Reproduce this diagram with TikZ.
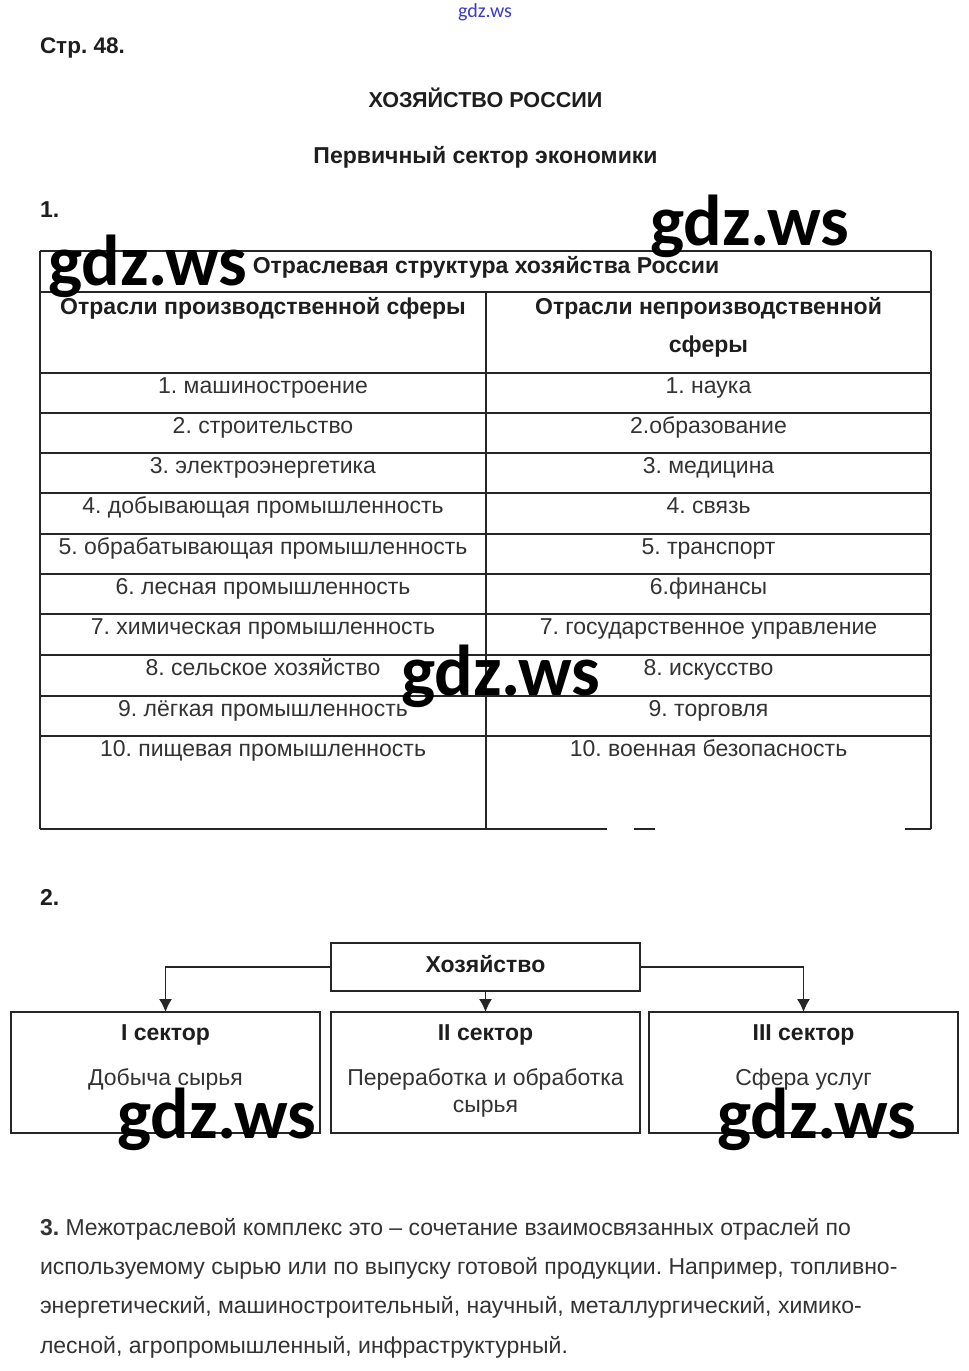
\documentclass[tikz,border=0pt]{standalone}
\usepackage{fontspec}
\setmainfont{Liberation Sans}
\newfontfamily\wmfont{Carlito}
\usetikzlibrary{arrows.meta}
\definecolor{txt}{HTML}{333333}
\definecolor{hdr}{HTML}{1E1E1E}
\definecolor{wmblue}{HTML}{3A3AD0}
\frenchspacing
\tikzset{
  every node/.style={inner sep=0pt, outer sep=0pt},
  bt/.style={font=\fontsize{23}{27}\selectfont\bfseries, text=hdr, anchor=base},
  rt/.style={font=\fontsize{23}{27}\selectfont, text=txt, anchor=base},
  pl/.style={font=\fontsize{23}{27}\selectfont, text=txt, anchor=base west},
  grid/.style={draw=black!85, line width=1.1pt},
  box/.style={draw=black!85, line width=1.1pt, minimum width=309pt},
  arr/.style={draw=black!85, line width=1.3pt, -{Latex[length=13pt,width=13pt]}},
  wm/.style={font=\wmfont\bfseries\fontsize{72}{80}\selectfont, text=black, anchor=base west},
}
\begin{document}
\frenchspacing
\begin{tikzpicture}[x=1pt,y=-1pt]
\useasboundingbox[fill=white] (0,0) rectangle (969,1371);

% small top watermark
\node[font=\wmfont\fontsize{20}{22}\selectfont, text=wmblue, anchor=base] (wmtop) at (485,17) {gdz.ws};

% headings
\node[bt, font=\fontsize{22.5}{27}\selectfont\bfseries, anchor=base west] (page) at (40,53) {Стр. 48.};
\node[bt, font=\fontsize{21.6}{27}\selectfont\bfseries] (title) at (485.5,107) {ХОЗЯЙСТВО РОССИИ};
\node[bt] (subtitle) at (485.5,163) {Первичный сектор экономики};
\node[bt, anchor=base west] (q1) at (40,217) {1.};

% table lines
\draw[grid] (40,251) -- (931,251);
\draw[grid] (40,251) -- (40,829);
\draw[grid] (931,251) -- (931,829);
\draw[grid] (486,292) -- (486,829);
\foreach \yy in {292,373,413,453,493,534,574,614,655,696,736} {
  \draw[grid] (40,\yy) -- (931,\yy);
}
\draw[grid] (40,829) -- (607,829);
\draw[grid] (634,829) -- (655,829);
\draw[grid] (905,829) -- (931,829);

% table texts
\node[bt] (thead) at (486,273) {Отраслевая структура хозяйства России};
\node[bt] (lhead) at (263,314) {Отрасли производственной сферы};
\node[bt] (rhead1) at (708.5,314) {Отрасли непроизводственной};
\node[bt] (rhead2) at (708.5,352) {сферы};

\node[rt] (l1) at (263,393.5) {1. машиностроение};
\node[rt] (l2) at (263,433.5) {2. строительство};
\node[rt] (l3) at (263,473.5) {3. электроэнергетика};
\node[rt] (l4) at (263,513.5) {4. добывающая промышленность};
\node[rt] (l5) at (263,554.5) {5. обрабатывающая промышленность};
\node[rt] (l6) at (263,594.5) {6. лесная промышленность};
\node[rt] (l7) at (263,634.5) {7. химическая промышленность};
\node[rt] (l8) at (263,675.5) {8. сельское хозяйство};
\node[rt] (l9) at (263,716.5) {9. лёгкая промышленность};
\node[rt] (l10) at (263,756.5) {10. пищевая промышленность};

\node[rt] (r1) at (708.5,393.5) {1. наука};
\node[rt] (r2) at (708.5,433.5) {2.образование};
\node[rt] (r3) at (708.5,473.5) {3. медицина};
\node[rt] (r4) at (708.5,513.5) {4. связь};
\node[rt] (r5) at (708.5,554.5) {5. транспорт};
\node[rt] (r6) at (708.5,594.5) {6.финансы};
\node[rt] (r7) at (708.5,634.5) {7. государственное управление};
\node[rt] (r8) at (708.5,675.5) {8. искусство};
\node[rt] (r9) at (708.5,716.5) {9. торговля};
\node[rt] (r10) at (708.5,756.5) {10. военная безопасность};

% part 2
\node[bt, anchor=base west] (q2) at (40,905) {2.};
\node[box, minimum height=48pt] (hoz) at (485.5,967) {};
\node[box, minimum height=121pt] (s1) at (165.5,1072.5) {};
\node[box, minimum height=121pt] (s2) at (485.5,1072.5) {};
\node[box, minimum height=121pt] (s3) at (803.5,1072.5) {};
\draw[arr] (hoz.west) -| (s1.north);
\draw[arr] (hoz.south) -- (s2.north);
\draw[arr] (hoz.east) -| (s3.north);

\node[bt] (hozt) at (485.5,972) {Хозяйство};
\node[bt] (s1t) at (165.5,1040) {I сектор};
\node[bt] (s2t) at (485.5,1040) {II сектор};
\node[bt] (s3t) at (803.5,1040) {III сектор};
\node[rt] (s1d) at (165.5,1085) {Добыча сырья};
\node[rt] (s2d) at (485.5,1085) {Переработка и обработка};
\node[rt] (s2e) at (485.5,1112) {сырья};
\node[rt] (s3d) at (803.5,1085) {Сфера услуг};

% part 3
\node[pl] (p1) at (40,1235) {\textbf{3.} Межотраслевой комплекс это – сочетание взаимосвязанных отраслей по};
\node[pl] (p2) at (40,1274) {используемому сырью или по выпуску готовой продукции. Например, топливно-};
\node[pl] (p3) at (40,1313) {энергетический, машиностроительный, научный, металлургический, химико-};
\node[pl] (p4) at (40,1353) {лесной, агропромышленный, инфраструктурный.};

% watermarks
\node[wm] (wm1) at (650,245) {gdz.ws};
\node[wm] (wm2) at (48,285) {gdz.ws};
\node[wm] (wm3) at (401,695) {gdz.ws};
\node[wm] (wm4) at (117,1138) {gdz.ws};
\node[wm] (wm5) at (717,1138) {gdz.ws};
\end{tikzpicture}
\end{document}
